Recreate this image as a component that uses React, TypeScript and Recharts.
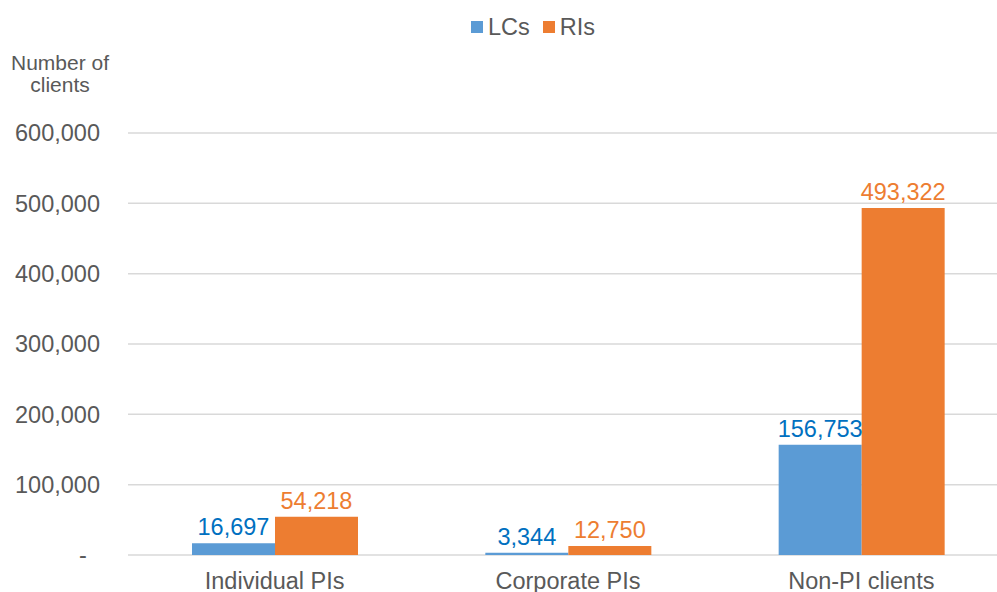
import React from "react";
import { BarChart, Bar, XAxis, YAxis, CartesianGrid, Legend, LabelList } from "recharts";

const categories = ["Individual PIs", "Corporate PIs", "Non-PI clients"];
const lcsValues = [16697, 3344, 156753];
const risValues = [54218, 12750, 493322];
const yTicks = [0, 100000, 200000, 300000, 400000, 500000, 600000];
const seriesNames = ["LCs", "RIs"];
const axisTitle = ["Number of", "clients"];

const data = categories.map((c, i) => ({ category: c, LCs: lcsValues[i], RIs: risValues[i] }));

const FONT = "'Liberation Sans', Arial, sans-serif";
const TEXT = "#595959";
const BLUE = "#5B9BD5";
const ORANGE = "#ED7D31";
const BLUE_LABEL = "#0070C0";

const fmt = (v: number) => (v === 0 ? "-\u00a0\u00a0" : v.toLocaleString("en-US"));

const LegendContent = () => {
  const colors = [BLUE, ORANGE];
  return (
    <div style={{ height: 40, display: "flex", justifyContent: "center", alignItems: "center", fontFamily: FONT, fontSize: 23.5, color: TEXT, paddingTop: 14, boxSizing: "border-box" }}>
      {seriesNames.map((n, i) => (
        <div key={n} style={{ display: "flex", alignItems: "center", marginRight: i === 0 ? 13 : 0 }}>
          <span style={{ display: "inline-block", width: 12, height: 12, background: colors[i], marginRight: 5 }} />
          <span>{n}</span>
        </div>
      ))}
    </div>
  );
};

const AxisTitle = () => (
  <g>
    <text x={60} y={70} textAnchor="middle" fontFamily={FONT} fontSize={21} fill={TEXT}>{axisTitle[0]}</text>
    <text x={60} y={92} textAnchor="middle" fontFamily={FONT} fontSize={21} fill={TEXT}>{axisTitle[1]}</text>
  </g>
);

export default function App() {
  return (
    <div style={{ position: "absolute", left: 0, top: 0, width: 997, height: 592, overflow: "hidden", background: "#fff" }}>
      <BarChart
        width={1008}
        height={592}
        data={data}
        margin={{ top: 93, right: 0, bottom: 0, left: 0 }}
        barGap={0}
        barSize={83}
      >
        <CartesianGrid horizontal vertical={false} stroke="#D9D9D9" strokeWidth={1.5} />
        <XAxis
          dataKey="category"
          height={37}
          tickLine={false}
          axisLine={false}
          tickSize={0}
          tickMargin={17}
          tick={{ fontSize: 23.5, fill: TEXT, fontFamily: FONT }}
        />
        <YAxis
          width={128}
          domain={[0, 600000]}
          ticks={yTicks}
          tickFormatter={fmt}
          tickLine={false}
          axisLine={false}
          tickSize={0}
          tickMargin={28}
          tick={{ fontSize: 23.5, fill: TEXT, fontFamily: FONT }}
          label={{ content: () => <AxisTitle /> }}
        />
        <Legend verticalAlign="top" content={() => <LegendContent />} wrapperStyle={{ top: 0, left: 0, width: 1066, height: 40 }} />
        <Bar dataKey="LCs" fill={BLUE} isAnimationActive={false}>
          <LabelList dataKey="LCs" position="top" offset={8} formatter={(v: any) => Number(v).toLocaleString("en-US")} fill={BLUE_LABEL} fontSize={23.5} fontFamily={FONT} />
        </Bar>
        <Bar dataKey="RIs" fill={ORANGE} isAnimationActive={false}>
          <LabelList dataKey="RIs" position="top" offset={8} formatter={(v: any) => Number(v).toLocaleString("en-US")} fill={ORANGE} fontSize={23.5} fontFamily={FONT} />
        </Bar>
      </BarChart>
    </div>
  );
}
